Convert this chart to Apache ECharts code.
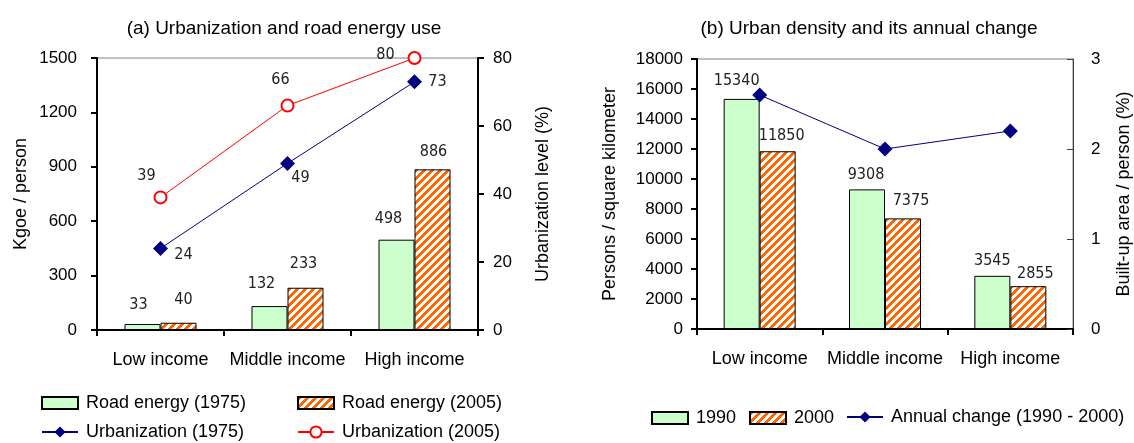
<!DOCTYPE html>
<html>
<head>
<meta charset="utf-8">
<script src="https://cdn.jsdelivr.net/npm/echarts@6/dist/echarts.min.js"></script>
<style>
  html, body { margin: 0; padding: 0; background: #fff; }
  #chart { width: 1134px; height: 443px; }
</style>
</head>
<body>
<div id="chart"></div>
<script>
// ---- data ----
const incomeGroups = ['Low income', 'Middle income', 'High income'];

// (a) road energy use (kgoe per person) and urbanization level (%)
const roadEnergy1975 = [33, 132, 498];
const roadEnergy2005 = [40, 233, 886];
const urbanization1975 = [24, 49, 73];
const urbanization2005 = [39, 66, 80];

// (b) urban density (persons per km2) and annual change of built-up area per person (%)
const density1990 = [15340, 9308, 3545];
const density2000 = [11850, 7375, 2855];
const builtUpChange = [2.6, 2.0, 2.2];

// axis tick labels
const energyTicks = [0, 300, 600, 900, 1200, 1500];
const urbanTicks = [0, 20, 40, 60, 80];
const densityTicks = [0, 2000, 4000, 6000, 8000, 10000, 12000, 14000, 16000, 18000];
const changeTicks = [0, 1, 2, 3];

// ---- styling helpers ----
const FONT = '"Liberation Sans", Arial, sans-serif';
const NARROW = '"Liberation Sans Narrow", "Arial Narrow", "DejaVu Sans Condensed", sans-serif';
const GREEN = '#CCFFCC';
const ORANGE = '#FF6600';
const NAVY = '#000080';
const RED = '#FF0000';

// orange diagonal hatch on white
function makeHatch() {
  const c = document.createElement('canvas');
  c.width = 8; c.height = 8;
  const ctx = c.getContext('2d');
  ctx.fillStyle = '#fff';
  ctx.fillRect(0, 0, 8, 8);
  ctx.fillStyle = ORANGE;
  for (let y = 0; y < 8; y++) {
    for (let x = 0; x < 8; x++) {
      if ((x + y) % 8 < 4) ctx.fillRect(x, y, 1, 1);
    }
  }
  return c;
}
const hatchFill = { image: makeHatch(), repeat: 'repeat' };

function range(ticks) {
  return { min: ticks[0], max: ticks[ticks.length - 1], interval: ticks[1] - ticks[0] };
}

// label nudges (pixels) for individual value labels
const shift = {
  road75: [[-4, -10.5], [-8, -13.5], [-8, -12]],
  road05: [[5, -14.5], [-2, -15], [1, -9]],
  urb75: [[23, 6], [13, 14], [23, 0]],
  urb05: [[-14, -22], [-7, -26], [-29, -3]],
  d1990: [[-5, -9.5], [-1, -6.5], [0, -6.5]],
  d2000: [[4, -6.5], [8, -9.5], [7, -3.5]]
};

const valueLabel = {
  show: true,
  fontFamily: NARROW,
  fontSize: 16,
  lineHeight: 17,
  color: '#222'
};

function withShift(values, offsets) {
  return values.map((v, i) => ({ value: v, label: { offset: offsets[i] } }));
}

function plain(v) { return String(v); }

function catAxis(gridIndex) {
  return {
    type: 'category',
    gridIndex: gridIndex,
    data: incomeGroups,
    boundaryGap: true,
    axisLine: { show: true, lineStyle: { color: '#000', width: 2 } },
    axisTick: { show: true, length: 6, lineStyle: { color: '#000', width: 2 } },
    axisLabel: { interval: 0, margin: 21, fontFamily: FONT, fontSize: 18, color: '#000' },
    splitLine: { show: false }
  };
}

function valAxis(gridIndex, position, ticks, name, nameGap, labelMargin, opts) {
  const r = range(ticks);
  return Object.assign({
    type: 'value',
    gridIndex: gridIndex,
    position: position,
    min: r.min, max: r.max, interval: r.interval,
    name: name,
    nameLocation: 'middle',
    nameRotate: 90,
    nameGap: nameGap,
    nameTextStyle: { fontFamily: FONT, fontSize: 18, color: '#000' },
    axisLine: { show: true, lineStyle: { color: '#000', width: 2 } },
    axisTick: { show: true, length: 6, lineStyle: { color: '#000', width: 2 } },
    axisLabel: { margin: labelMargin, formatter: plain, fontFamily: FONT, fontSize: 17, color: '#000' },
    splitLine: { show: false }
  }, opts || {});
}

function legendItem(name, left, top, asLine) {
  const item = {
    data: [name],
    left: left,
    top: top,
    padding: 0,
    itemWidth: 36,
    itemHeight: asLine ? 14 : 12,
    selectedMode: false,
    textStyle: { fontFamily: FONT, fontSize: 18, color: '#000', padding: [0, 0, 0, 3] }
  };
  if (!asLine) item.icon = 'rect';
  return item;
}

const chart = echarts.init(document.getElementById('chart'), null, { renderer: 'canvas' });

chart.setOption({
  animation: false,
  backgroundColor: '#fff',
  title: [
    {
      text: '(a) Urbanization and road energy use',
      left: 279, top: 14, textAlign: 'center',
      textStyle: { fontFamily: FONT, fontSize: 19, fontWeight: 'normal', color: '#000' }
    },
    {
      text: '(b) Urban density and its annual change',
      left: 864, top: 14, textAlign: 'center',
      textStyle: { fontFamily: FONT, fontSize: 19, fontWeight: 'normal', color: '#000' }
    }
  ],
  grid: [
    { left: 97, top: 58, width: 381, height: 272, show: true, borderColor: '#808080', borderWidth: 1, backgroundColor: 'transparent' },
    { left: 697, top: 59, width: 377, height: 270, show: true, borderColor: '#808080', borderWidth: 1, backgroundColor: 'transparent' }
  ],
  xAxis: [catAxis(0), catAxis(1)],
  yAxis: [
    valAxis(0, 'left', energyTicks, 'Kgoe / person', 67, 20),
    valAxis(0, 'right', urbanTicks, 'Urbanization level (%)', 56, 15),
    valAxis(1, 'left', densityTicks, 'Persons / square kilometer', 78, 14),
    valAxis(1, 'right', changeTicks, 'Built-up area / person (%)', 42, 18, {
      axisLine: { show: true, lineStyle: { color: '#404040', width: 1 } },
      axisTick: { show: true, inside: true, length: 6, lineStyle: { color: '#404040', width: 1 } }
    })
  ],
  legend: [
    legendItem('Road energy (1975)', 41, 394),
    legendItem('Road energy (2005)', 297, 394),
    legendItem('Urbanization (1975)', 41, 423, true),
    legendItem('Urbanization (2005)', 297, 423, true),
    legendItem('1990', 651, 409),
    legendItem('2000', 749, 409),
    legendItem('Annual change (1990 - 2000)', 846, 408, true)
  ],
  series: [
    {
      name: 'Road energy (1975)', type: 'bar', xAxisIndex: 0, yAxisIndex: 0,
      data: withShift(roadEnergy1975, shift.road75),
      barWidth: 36, barGap: '0%',
      itemStyle: { color: GREEN, borderColor: '#000', borderWidth: 1 },
      label: Object.assign({ position: 'top', distance: 0 }, valueLabel)
    },
    {
      name: 'Road energy (2005)', type: 'bar', xAxisIndex: 0, yAxisIndex: 0,
      data: withShift(roadEnergy2005, shift.road05),
      barWidth: 36, barGap: '0%',
      itemStyle: { color: hatchFill, borderColor: '#000', borderWidth: 1 },
      label: Object.assign({ position: 'top', distance: 0 }, valueLabel)
    },
    {
      name: 'Urbanization (1975)', type: 'line', xAxisIndex: 0, yAxisIndex: 1,
      data: withShift(urbanization1975, shift.urb75),
      symbol: 'diamond', symbolSize: 15,
      itemStyle: { color: NAVY },
      lineStyle: { color: NAVY, width: 1 },
      label: Object.assign({ position: 'inside' }, valueLabel),
      z: 5
    },
    {
      name: 'Urbanization (2005)', type: 'line', xAxisIndex: 0, yAxisIndex: 1,
      data: withShift(urbanization2005, shift.urb05),
      symbol: 'emptyCircle', symbolSize: 12,
      itemStyle: { color: RED, borderColor: RED, borderWidth: 1 },
      lineStyle: { color: RED, width: 1 },
      label: Object.assign({ position: 'inside' }, valueLabel),
      z: 5
    },
    {
      name: '1990', type: 'bar', xAxisIndex: 1, yAxisIndex: 2,
      data: withShift(density1990, shift.d1990),
      barWidth: 36, barGap: '0%',
      itemStyle: { color: GREEN, borderColor: '#000', borderWidth: 1 },
      label: Object.assign({ position: 'top', distance: 0 }, valueLabel)
    },
    {
      name: '2000', type: 'bar', xAxisIndex: 1, yAxisIndex: 2,
      data: withShift(density2000, shift.d2000),
      barWidth: 36, barGap: '0%',
      itemStyle: { color: hatchFill, borderColor: '#000', borderWidth: 1 },
      label: Object.assign({ position: 'top', distance: 0 }, valueLabel)
    },
    {
      name: 'Annual change (1990 - 2000)', type: 'line', xAxisIndex: 1, yAxisIndex: 3,
      data: builtUpChange,
      symbol: 'diamond', symbolSize: 15,
      itemStyle: { color: NAVY },
      lineStyle: { color: NAVY, width: 1 },
      z: 5
    }
  ]
});
</script>
</body>
</html>
